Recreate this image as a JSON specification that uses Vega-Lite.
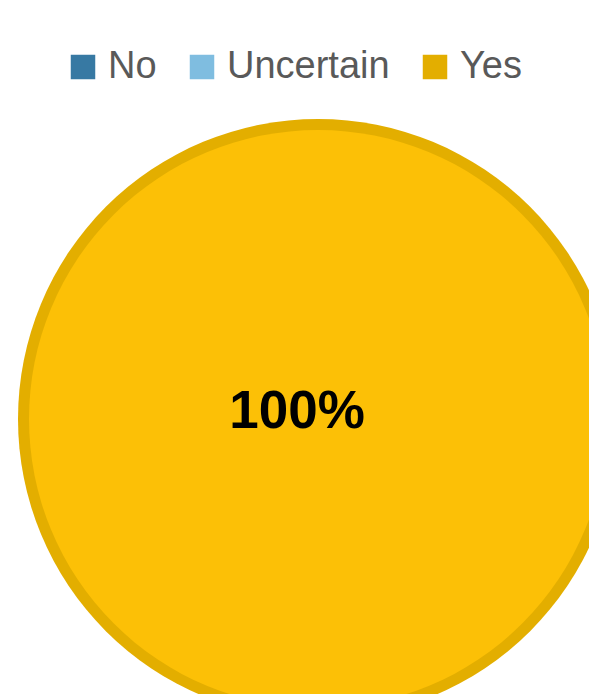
{
  "$schema": "https://vega.github.io/schema/vega-lite/v6.json",
  "width": 542,
  "height": 554,
  "autosize": {"type": "none"},
  "padding": {"left": 47, "top": 142, "right": 0, "bottom": 0},
  "background": "white",
  "config": {"view": {"stroke": null}},
  "data": {"values": [
    {"answer": "No", "share": 0},
    {"answer": "Uncertain", "share": 0},
    {"answer": "Yes", "share": 1}
  ]},
  "encoding": {
    "theta": {"field": "share", "type": "quantitative", "stack": true},
    "order": {"field": "answer", "sort": "ascending"}
  },
  "layer": [
    {
      "mark": {"type": "arc", "radius": 300, "strokeWidth": 0},
      "encoding": {
        "color": {
          "field": "answer",
          "type": "nominal",
          "scale": {"domain": ["No", "Uncertain", "Yes"], "range": ["#3779A3", "#7FBDE0", "#E3AE00"]},
          "legend": {
            "title": null,
            "orient": "none",
            "direction": "horizontal",
            "legendX": 17,
            "legendY": -94,
            "symbolType": "square",
            "symbolSize": 600,
            "symbolStrokeWidth": 0,
            "labelFont": "Liberation Sans",
            "labelFontSize": 38,
            "labelColor": "#595959",
            "labelOffset": 6,
            "columnPadding": 26,
            "labelLimit": 400
          }
        }
      }
    },
    {
      "transform": [{"filter": "datum.share > 0"}],
      "mark": {"type": "arc", "radius": 289, "fill": "#FCC006", "strokeWidth": 0}
    },
    {
      "transform": [{"filter": "datum.share > 0"}],
      "mark": {"type": "text", "radius": 0, "dx": -21, "dy": -7, "font": "Liberation Sans", "fontWeight": "bold", "fontSize": 53, "color": "#000000", "baseline": "middle", "align": "center"},
      "encoding": {"text": {"field": "share", "type": "quantitative", "format": ".0%"}}
    }
  ]
}
